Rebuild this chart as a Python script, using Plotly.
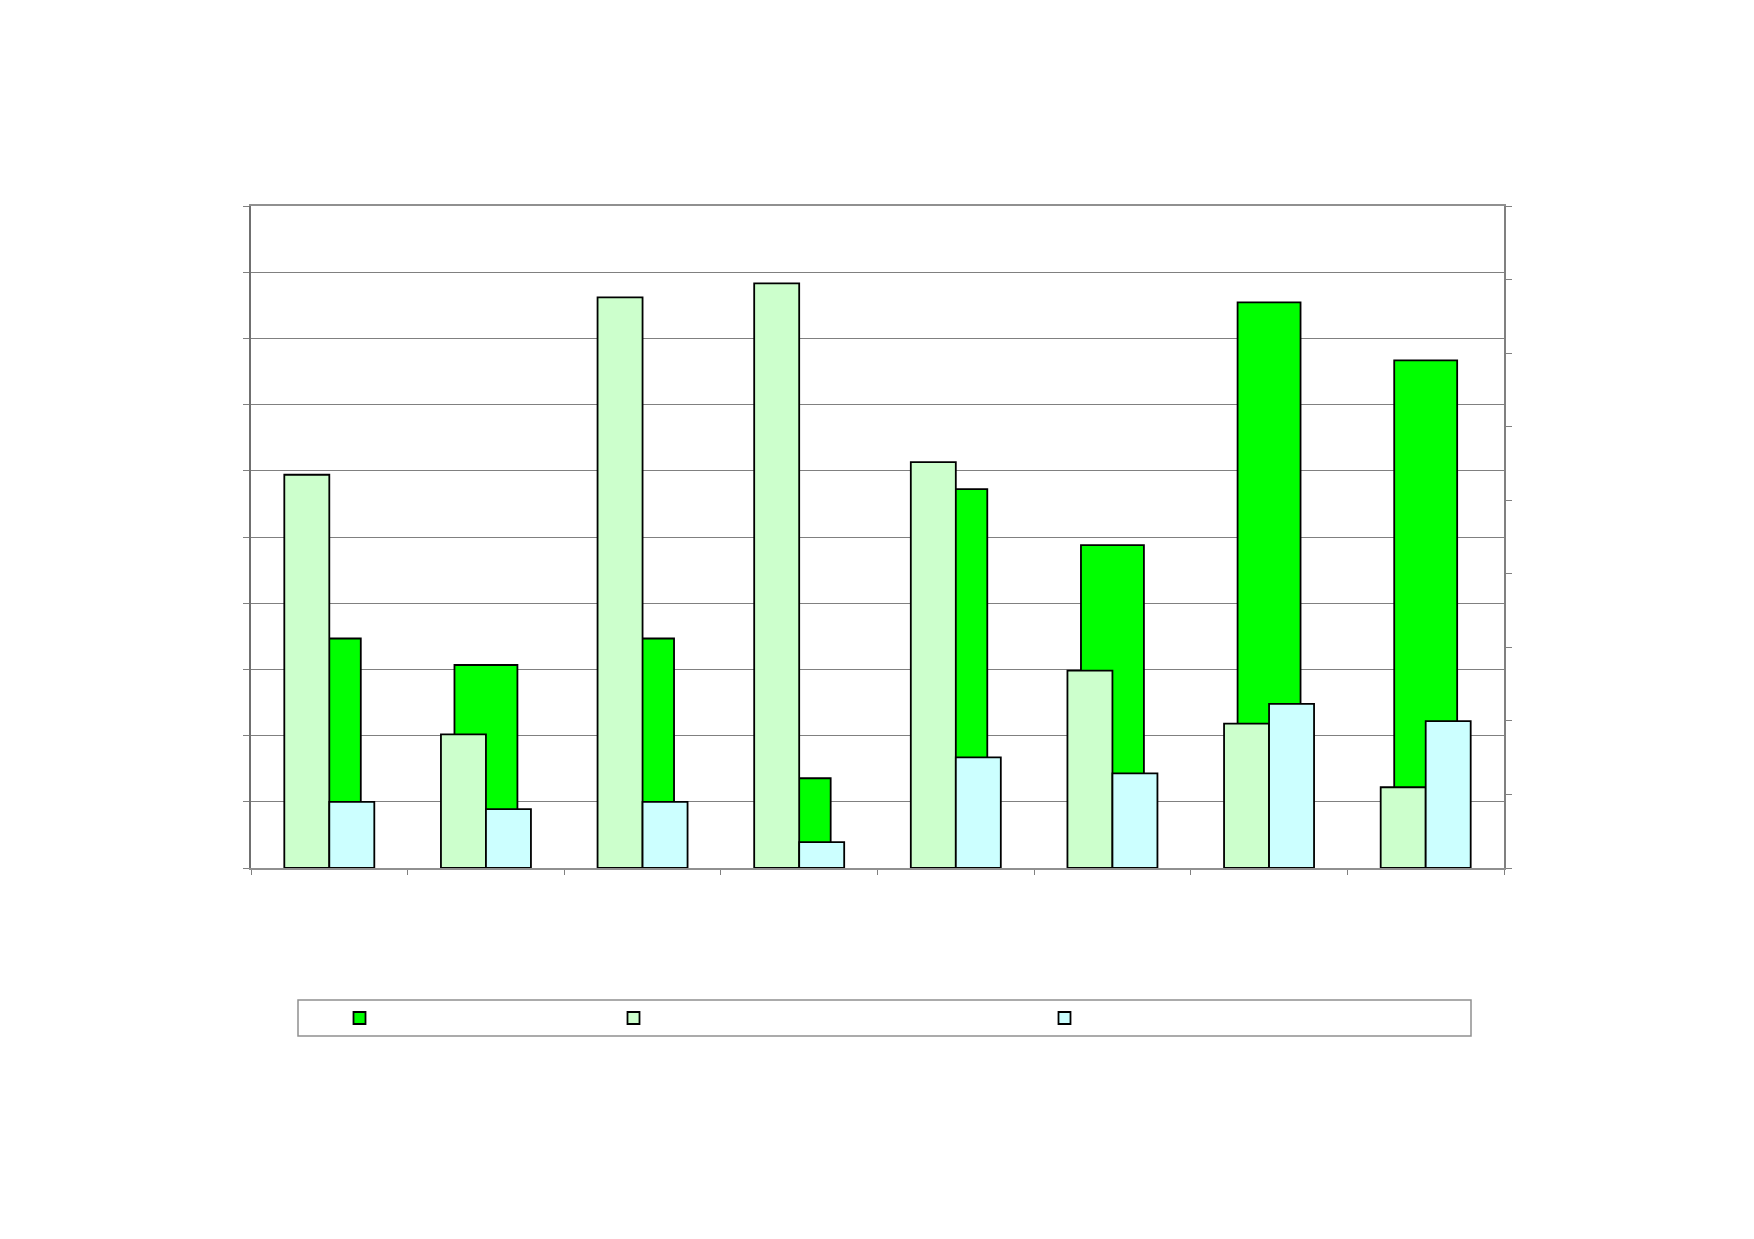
"""Grouped bars on two value axes, no labels (as in the source sheet)."""
import plotly.graph_objects as go

# categories (no names are shown in the chart)
categories = ["1", "2", "3", "4", "5", "6", "7", "8"]

# series on the right-hand axis (0-9)
green_vals = [3.12, 2.76, 3.12, 1.22, 5.15, 4.39, 7.69, 6.90]
# series on the left-hand axis (0-10)
light_green_vals = [5.94, 2.02, 8.62, 8.83, 6.13, 2.98, 2.18, 1.22]
cyan_vals = [1.00, 0.89, 1.00, 0.39, 1.67, 1.43, 2.48, 2.22]

# page geometry (px); the page body adds an 8px offset
W, H = 1754, 1239
OFF = 8
L, R, T, B = 251 - OFF, 250 + OFF, 206 - OFF, 371 + OFF
PW, PH = W - L - R, H - T - B


def px_x(x):
    return (x - OFF - L) / PW


def px_y(y):
    return (H - B - (y - OFF)) / PH


outline = dict(color="black", width=1.8)

fig = go.Figure()
fig.add_trace(go.Bar(
    x=categories, y=green_vals, name=" ", yaxis="y",
    width=0.402, offset=-0.201,
    marker=dict(color="#00FF00", line=outline), legend="legend",
))
fig.add_trace(go.Bar(
    x=categories, y=light_green_vals, name=" ", yaxis="y2",
    width=0.2873, offset=-0.2873,
    marker=dict(color="#CCFFCC", line=outline), legend="legend2",
))
fig.add_trace(go.Bar(
    x=categories, y=cyan_vals, name=" ", yaxis="y2",
    width=0.2873, offset=0,
    marker=dict(color="#CCFFFF", line=outline), legend="legend3",
))

leg = dict(
    orientation="h", yanchor="middle", xanchor="center",
    bgcolor="rgba(0,0,0,0)", borderwidth=0,
    font=dict(family="Liberation Sans", size=12),
)
legend_y = px_y(1018)

fig.update_layout(
    width=W, height=H,
    margin=dict(l=L, r=R, t=T, b=B, pad=0),
    paper_bgcolor="white", plot_bgcolor="white",
    barmode="overlay",
    showlegend=True,
    legend=dict(leg, x=px_x(358 + 6), y=legend_y),
    legend2=dict(leg, x=px_x(634 + 4), y=legend_y),
    legend3=dict(leg, x=px_x(1065 + 4), y=legend_y),
    xaxis=dict(
        type="category", range=[-0.5, 7.5], tickson="boundaries",
        ticks="outside", ticklen=5, tickcolor="#808080",
        showticklabels=False, showgrid=False,
        showline=True, linecolor="#909090", linewidth=2, mirror=True,
    ),
    yaxis=dict(
        side="right", range=[0, 9], dtick=1,
        ticks="outside", ticklen=6, tickcolor="#808080",
        showticklabels=False, showgrid=False, zeroline=False,
        showline=True, linecolor="#808080", linewidth=2,
    ),
    yaxis2=dict(
        overlaying="y", side="left", range=[0, 10], dtick=1,
        ticks="outside", ticklen=6, tickcolor="#808080",
        showticklabels=False, showgrid=True, gridcolor="#808080", gridwidth=1,
        zeroline=False,
        showline=True, linecolor="#707070", linewidth=2,
    ),
    shapes=[dict(
        type="rect", xref="paper", yref="paper",
        x0=px_x(298), x1=px_x(1471), y0=px_y(1036), y1=px_y(1000),
        line=dict(color="#909090", width=1.5), fillcolor="rgba(0,0,0,0)",
    )],
)

fig.write_html("out.html")
